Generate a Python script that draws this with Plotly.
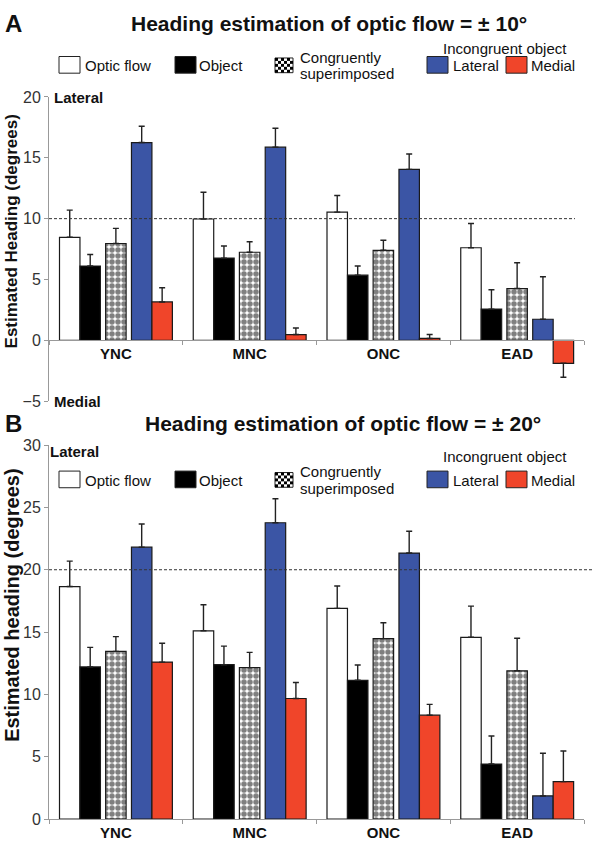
import plotly.graph_objects as go

W, H = 596, 853

categories = ["YNC", "MNC", "ONC", "EAD"]
series_names = ["Optic flow", "Object", "Congruently superimposed", "Lateral", "Medial"]

# Panel A: heading estimation of optic flow = ±10°
a_optic = [8.47, 9.97, 10.54, 7.61]
a_object = [6.11, 6.76, 5.36, 2.57]
a_congruent = [7.96, 7.24, 7.40, 4.26]
a_lateral = [16.25, 15.87, 14.05, 1.74]
a_medial = [3.16, 0.48, 0.16, -1.88]
a_optic_err = [2.23, 2.20, 1.36, 1.99]
a_object_err = [0.94, 0.99, 0.75, 1.59]
a_congruent_err = [1.24, 0.86, 0.83, 2.12]
a_lateral_err = [1.34, 1.56, 1.26, 3.49]
a_medial_err = [1.16, 0.54, 0.32, 1.15]

# Panel B: heading estimation of optic flow = ±20°
b_optic = [18.65, 15.10, 16.90, 14.58]
b_object = [12.20, 12.38, 11.13, 4.41]
b_congruent = [13.45, 12.15, 14.47, 11.89]
b_lateral = [21.81, 23.77, 21.34, 1.85]
b_medial = [12.59, 9.67, 8.33, 3.00]
b_optic_err = [2.04, 2.09, 1.80, 2.50]
b_object_err = [1.57, 1.49, 1.23, 2.25]
b_congruent_err = [1.18, 1.22, 1.28, 2.61]
b_lateral_err = [1.86, 1.93, 1.75, 3.43]
b_medial_err = [1.51, 1.28, 0.87, 2.46]

a_ticks = [-5, 0, 5, 10, 15, 20]
b_ticks = [0, 5, 10, 15, 20, 25, 30]

# ---- style ----
BLUE = "#3b55a5"
RED = "#f0452a"
FILLS = ["white", "black", "white", BLUE, RED]
OFFS = [-0.345, -0.192, 0.0, 0.193, 0.346]
BW = 0.153
FONT = "Liberation Sans, Arial, sans-serif"


def px(x):
    return x / W


def py(y):
    return 1 - y / H


XDOM = [px(49), px(584)]
A_DOM = [py(401.3), py(90.7)]
B_DOM = [py(827.5), py(446)]

fig = go.Figure()


def add_panel(vals, errs, xa, ya):
    for i, (v, e) in enumerate(zip(vals, errs)):
        plus = [ee if vv >= 0 else 0 for vv, ee in zip(v, e)]
        minus = [0 if vv >= 0 else ee for vv, ee in zip(v, e)]
        marker = dict(color=FILLS[i], line=dict(color="#1a1a1a", width=1.2))
        if i == 2:
            marker["pattern"] = dict(shape=".", fgcolor="black", bgcolor="white",
                                     size=6, solidity=0.66)
        fig.add_trace(go.Bar(
            x=categories, y=v, name=series_names[i], xaxis=xa, yaxis=ya,
            width=BW, offset=OFFS[i] - BW / 2, marker=marker, showlegend=False,
            error_y=dict(type="data", symmetric=False, array=plus, arrayminus=minus,
                         color="#222", thickness=1.4, width=3),
        ))


add_panel([a_optic, a_object, a_congruent, a_lateral, a_medial],
          [a_optic_err, a_object_err, a_congruent_err, a_lateral_err, a_medial_err], "x", "y")
add_panel([b_optic, b_object, b_congruent, b_lateral, b_medial],
          [b_optic_err, b_object_err, b_congruent_err, b_lateral_err, b_medial_err], "x2", "y2")

a_zero = A_DOM[0] + (0 - a_ticks[0]) / (a_ticks[-1] - a_ticks[0]) * (A_DOM[1] - A_DOM[0])

xcommon = dict(type="category", domain=XDOM, range=[-0.5, 3.5], tickson="boundaries",
               ticks="outside", ticklen=4, tickcolor="#999", showline=True, linecolor="#999",
               linewidth=1, showgrid=False, zeroline=False,
               tickfont=dict(family=FONT, size=15, color="#111", weight="bold"))
ycommon = dict(showline=True, linecolor="#999", linewidth=1, ticks="outside", ticklen=4,
               tickcolor="#999", showgrid=False, zeroline=False,
               tickfont=dict(family=FONT, size=16, color="#333"))

fig.update_layout(
    width=W, height=H, margin=dict(l=0, r=0, t=0, b=0),
    paper_bgcolor="white", plot_bgcolor="rgba(0,0,0,0)",
    barmode="overlay", showlegend=False,
    xaxis=dict(xcommon, anchor="free", position=a_zero),
    yaxis=dict(ycommon, domain=A_DOM, range=[a_ticks[0], a_ticks[-1]], tickvals=a_ticks, anchor="x"),
    xaxis2=dict(xcommon, anchor="y2"),
    yaxis2=dict(ycommon, domain=B_DOM, range=[b_ticks[0], b_ticks[-1]], tickvals=b_ticks, anchor="x2"),
    font=dict(family=FONT),
)

shapes = []
ann = []

# reference dashed lines
shapes.append(dict(type="line", xref="x domain", yref="y", x0=0, x1=(575 - 49) / 535,
                   y0=10, y1=10, line=dict(color="#333", width=1, dash="3px,2px")))
shapes.append(dict(type="line", xref="x2 domain", yref="y2", x0=0, x1=(593 - 49) / 535,
                   y0=20, y1=20, line=dict(color="#333", width=1, dash="3px,2px")))


def text(x, y, s, size=15, bold=False, xanchor="left", color="#111", angle=0):
    ann.append(dict(x=px(x), y=py(y), xref="paper", yref="paper", text=s, showarrow=False,
                    xanchor=xanchor, yanchor="middle", textangle=angle,
                    font=dict(family=FONT, size=size, color=color,
                              weight="bold" if bold else "normal")))


def rect(x0, y0, x1, y1, fill, line="#222"):
    shapes.append(dict(type="rect", xref="paper", yref="paper", x0=px(x0), x1=px(x1),
                       y0=py(y1), y1=py(y0), fillcolor=fill, line=dict(color=line, width=1)))


def checker(x0, y0, x1, y1, cell=3):
    rect(x0, y0, x1, y1, "white", line="#222")
    nx = int(round((x1 - x0) / cell))
    ny = int(round((y1 - y0) / cell))
    for i in range(nx):
        for j in range(ny):
            if (i + j) % 2 == 0:
                shapes.append(dict(type="rect", xref="paper", yref="paper",
                                   x0=px(x0 + i * cell), x1=px(min(x0 + (i + 1) * cell, x1)),
                                   y0=py(min(y0 + (j + 1) * cell, y1)), y1=py(y0 + j * cell),
                                   fillcolor="black", line=dict(width=0)))


def legend(yc, inc_y):
    rect(59, yc - 8.5, 80, yc + 8.5, "white")
    text(83, yc + 1, series_names[0])
    rect(175, yc - 8.5, 196, yc + 8.5, "black")
    text(197, yc + 1, series_names[1])
    checker(275, yc - 7, 293, yc + 8)
    text(298, yc - 8, "Congruently")
    text(298, yc + 9, "superimposed")
    rect(427, yc - 8.5, 448, yc + 8.5, BLUE)
    text(451, yc + 1, series_names[3])
    rect(506, yc - 8.5, 527, yc + 8.5, RED)
    text(529, yc + 1, series_names[4])
    text(505, inc_y, "Incongruent object", xanchor="center")


# Panel A headers
text(3, 16, "A", size=24, bold=True)
text(329, 16, "Heading estimation of optic flow = ± 10°", size=21, bold=True, xanchor="center")
legend(58, 41)
text(52, 91, "Lateral", size=15, bold=True)
text(52, 401, "Medial", size=15, bold=True)
text(11, 228, "Estimated Heading (degrees)", size=17, bold=True, xanchor="center", angle=-90)

# Panel B headers
text(3, 424, "B", size=24, bold=True)
text(343, 424, "Heading estimation of optic flow = ± 20°", size=21, bold=True, xanchor="center")
legend(481, 458)
text(48, 453, "Lateral", size=15, bold=True)
text(12, 610, "Estimated heading (degrees)", size=20, bold=True, xanchor="center", angle=-90)

fig.update_layout(shapes=shapes, annotations=ann)
fig.write_html("out.html", config={"displayModeBar": False},
               post_script="document.body.style.margin='0';document.body.style.overflow='hidden';")
